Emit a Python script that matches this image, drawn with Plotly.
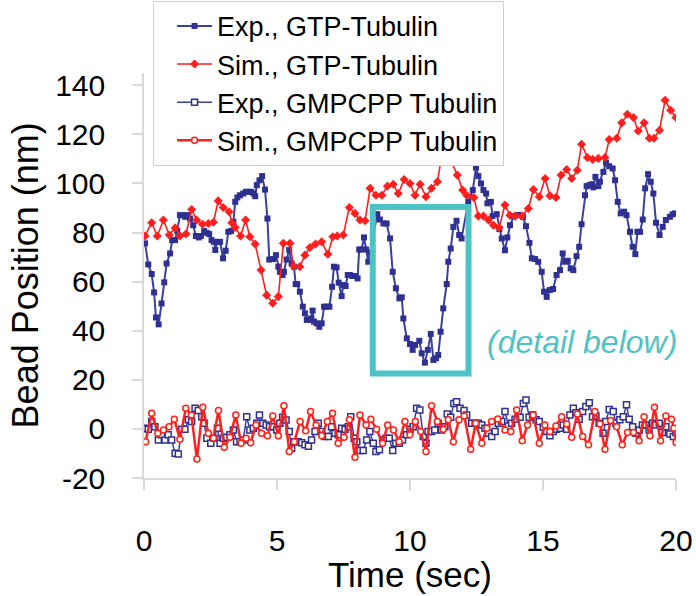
import plotly.graph_objects as go

# ---------------- data ----------------
exp_gtp_t = [0.04,0.16,0.29,0.38,0.45,0.55,0.66,0.76,0.85,0.98,1.06,1.17,1.25,1.35,1.45,1.55,1.64,1.73,1.85,1.95,
             2.06,2.14,2.26,2.36,2.45,2.54,2.63,2.68,2.76,2.86,2.97,3.07,3.17,3.27,3.36,3.43,3.51,3.61,3.73,3.83,
             3.94,4.03,4.12,4.18,4.24,4.34,4.44,4.55,4.64,4.71,
             4.86,4.96,5.05,5.11,5.21,5.26,5.36,5.46,5.55,5.64,5.7,5.76,5.86,5.97,6.05,6.12,6.18,6.27,6.34,6.39,
             6.49,6.59,6.68,6.77,6.87,6.97,7.07,7.14,7.24,7.32,7.43,7.49,7.58,7.66,7.74,7.84,7.94,8.03,8.09,8.18,
             8.27,8.35,8.43,8.5,
             8.77,8.87,9.0,9.12,9.25,9.35,9.47,9.6,9.69,9.75,9.88,10.0,10.1,10.19,10.35,10.44,10.56,10.67,10.78,10.88,
             10.98,11.06,11.15,11.25,11.38,11.44,11.53,11.63,11.75,11.85,11.94,
             12.19,12.36,12.48,12.57,12.67,12.76,12.86,12.91,13.04,13.1,13.26,13.36,13.45,13.57,13.66,13.76,13.91,14.03,14.15,14.25,
             14.36,14.49,14.58,14.7,14.82,14.95,15.04,15.14,15.26,15.38,15.51,15.64,15.74,15.83,15.93,16.04,16.14,16.26,16.36,16.45,
             16.58,
             16.64,16.74,16.84,16.89,16.97,17.08,17.14,17.27,17.37,17.49,17.62,17.71,17.81,17.92,18.05,18.14,18.27,18.37,18.47,18.55,
             18.65,18.75,18.84,18.95,19.05,19.15,19.25,19.38,19.5,19.62,19.77,19.87,19.96]
exp_gtp_v = [75.6,67,63.1,55.6,45.4,42.6,51.1,59.7,67.4,71.5,76.9,76.9,80.7,87.1,87.1,86.4,87.1,85.7,83,78.6,
             78,78.6,80.6,79.9,79.4,76.9,76.2,72.9,76.2,76.2,69.5,72.6,80.3,80.6,84.4,92.5,94.3,95.2,95.9,96.6,
             96.6,96.6,95.9,94.8,99.3,101.3,103,97.5,85.7,69,
             69.2,70.8,66.1,64,62.7,64,69,72.9,67.4,66.1,59,59,55.9,49.8,47.1,44.4,44.4,45,48.2,43.7,
             43,41.6,43,49.8,49.8,49.8,57.9,66.1,65.8,59.6,54.1,58.6,58.2,62.7,62.7,62.3,62.3,61.3,73.1,73.1,
             78,73.1,68.1,71.8,
             87.5,85.3,83.7,83.7,77.6,64,57.3,53.2,53.6,45,36.9,34.6,32.2,34.2,35.9,30.8,27,32.2,38.7,28.1,
             28.8,30.1,39.6,49.1,59,68.1,73.5,82.3,84.8,79,77.6,
             92.5,97.3,106.5,103,100,97.3,95.9,91.9,92.5,86.7,87.5,81.4,77.6,72.8,78,83,86.7,87.1,87.1,86.4,
             82.6,75.8,69.5,69.2,68.1,64,55.9,53.8,56.6,57,62.7,64.7,71.5,68.1,68.5,65.4,64.7,70.4,74.2,83.4,
             95.2,
             98.9,99.3,99.7,98.4,102.7,98.9,100.7,104.7,108.4,107,106.1,101.3,92.5,87.8,88.5,87.1,80.3,74.2,71.2,80.3,
             80.3,85.3,98,103.8,100.7,95.9,84,79,82.3,85.1,86.4,87.4,87.8]

sim_gtp_t = [0.04,0.29,0.5,0.73,0.95,1.17,1.35,1.58,1.79,1.98,2.2,2.42,2.61,2.79,2.98,3.2,3.3,3.43,3.63,3.82,
             3.98,4.18,4.4,4.61,4.84,5.05,5.24,5.49,5.62,5.86,6.05,6.24,6.45,6.68,6.91,7.1,7.27,7.49,7.72,7.93,
             8.12,8.31,8.5,8.72,8.94,9.15,9.37,9.56,9.78,10.0,10.19,10.38,10.6,10.81,11.03,11.19,11.38,11.53,11.78,11.98,
             12.13,12.4,12.57,12.76,12.95,13.14,13.35,13.57,13.76,13.95,14.2,14.45,14.64,14.86,15.08,15.26,15.49,15.68,15.89,16.08,
             16.29,16.45,16.67,16.87,17.08,17.33,17.49,17.77,17.96,18.17,18.4,18.58,18.8,19.0,19.17,19.38,19.59,19.8,20.0]
sim_gtp_v = [78.6,84,78.6,85.1,79,81.9,78.6,79.4,89.4,85.1,83.4,83.7,84.2,92.9,90.2,88.5,84,82.1,78.6,85.1,
             78.3,75.3,64.7,54.5,51.2,53.9,75.6,75.6,66.3,66.1,70.8,73.9,75.3,76.2,71.2,78.3,78.6,79,90.2,87.8,
             85.1,84.8,98,95.2,95.2,98.9,99.7,95.9,101.6,100,95.2,99.7,94.6,98,100.7,111.1,110.9,109.5,103.4,97.3,
             95.2,94.3,86.7,86.7,85.1,83,82.1,91.2,87,86.7,86.7,89.8,97.5,94.6,102,95,94.3,103.4,105.7,102,
             105.4,116,110.6,109.8,110.2,110.6,117.9,118.4,124.7,128.2,126.9,121.4,124.7,118.4,118.4,121.7,133.9,129.8,126.9]

exp_gmp_t = [0.04,0.16,0.29,0.41,0.54,0.66,0.79,0.91,1.04,1.17,
             1.29,1.42,1.54,1.67,1.79,1.92,2.04,2.17,2.26,2.36,
             2.51,2.63,2.76,2.86,2.98,3.11,3.23,3.36,3.48,3.61,
             3.73,3.86,3.98,4.11,4.24,4.34,4.47,4.59,4.72,4.86,
             4.99,5.11,5.21,5.34,5.46,5.55,5.64,5.8,5.93,6.05,
             6.18,6.3,6.43,6.55,6.68,6.8,6.93,7.05,7.18,7.3,
             7.43,7.56,7.68,7.77,7.9,8.0,8.12,8.24,8.37,8.49,
             8.62,8.72,8.85,8.97,9.1,9.22,9.35,9.47,9.6,9.72,
             9.87,10.0,10.12,10.25,10.37,10.5,10.6,10.68,10.81,10.93,
             11.06,11.19,11.31,11.4,11.53,11.65,11.75,11.88,12.03,12.13,
             12.32,12.45,12.57,12.7,12.82,12.95,13.07,13.2,13.32,13.45,
             13.57,13.7,13.82,13.95,14.14,14.26,14.36,14.48,14.61,14.74,
             14.86,15.01,15.14,15.26,15.39,15.51,15.64,15.76,15.89,16.01,
             16.14,16.24,16.36,16.49,16.61,16.74,16.86,16.99,17.11,17.26,
             17.36,17.49,17.64,17.74,17.89,18.02,18.14,18.24,18.37,18.49,
             18.62,18.74,18.87,18.99,19.12,19.24,19.37,19.49,19.62,19.77,
             19.9,20.0]
exp_gmp_v = [0.3,-0.1,3,0.9,-4.5,-2.4,-4.5,-2.4,-4.5,-9.9,
             -10.2,-0.1,-0.1,3.7,3,8.4,7.5,5,2.3,-3.8,
             -5.8,-3.8,0.3,-5.8,-3.8,-3.4,-2.4,-0.4,-5.2,-5.2,
             -4.5,5,-0.4,0.3,2.3,5.7,2.3,1.6,0.9,0.9,
             -0.4,2.3,4.7,3.6,-1.1,-7.9,-5.2,-5.2,-5.6,-6.5,
             -7.1,-4.5,-1.1,2.3,-1.1,-3.1,-3.1,0.9,-1.8,-2.4,
             0.3,-0.1,0.9,5,-3.8,-5.2,-8.8,-8.8,-4.5,-1.1,
             -5.8,-9.2,-8.5,-4.5,-3.8,-3.8,-8.8,-5.8,-5.8,-4.5,
             -2.4,-0.1,0.9,8.4,7.7,-3.1,-5.8,-1.1,-1.1,-0.4,
             2.3,-0.4,0.9,6.1,4.7,10.4,11.1,8.4,7.5,5.7,
             2.3,2.3,2.3,1.6,0.3,-1.8,-3.1,-1.1,2.3,3,
             7.1,1.2,2.3,3.9,4.7,10.4,11.8,4.7,5.7,3.7,
             3,0.7,-1.1,-2.8,-1.1,-0.1,0.3,1.6,-0.1,5.7,
             8.4,6.6,3.9,7.1,9.1,10.7,5,5.3,2.3,-1.8,
             3,7.9,7.1,2.3,3.7,5,9.8,3.9,0.9,-1.8,
             -0.4,1.6,1.6,-0.4,2.3,1.6,2.3,-1.5,0.9,-2.1,
             -3.1,-1.5]

sim_gmp_t = [0.06,0.29,0.52,0.73,0.94,1.14,1.35,1.57,1.78,1.99,
             2.21,2.42,2.61,2.8,3.02,3.23,3.45,3.65,3.84,4.01,
             4.21,4.42,4.64,4.84,5.05,5.26,5.46,5.65,5.87,6.08,
             6.26,6.47,6.68,6.89,7.09,7.3,7.52,7.72,7.93,8.12,
             8.35,8.53,8.74,8.97,9.16,9.38,9.59,9.81,10.0,10.2,
             10.4,10.6,10.81,11.03,11.25,11.44,11.63,11.84,12.04,12.28,
             12.47,12.7,12.89,13.07,13.3,13.57,13.79,14.01,14.22,14.42,
             14.63,14.86,15.07,15.26,15.49,15.7,15.89,16.08,16.29,16.49,
             16.71,16.95,17.14,17.33,17.54,17.77,17.98,18.18,18.4,18.61,
             18.8,19.02,19.19,19.42,19.62,19.83,19.92,20.0]
sim_gmp_v = [-5.2,6.4,-1.8,-0.4,0.9,3.9,-4.2,8.4,5.7,-12.3,
             8.8,-1.8,-3.8,7.5,-7.5,-3.4,5.7,-5.8,-3.8,-5.6,
             1.6,-1.8,-2.8,5.3,-2.8,9.4,-9.2,-5.2,3,-0.7,
             7.1,1.6,-2.8,3,6.4,-5.8,-3.4,3.7,-11.5,5.7,
             1.6,3.9,-0.1,-5.8,1.6,-0.4,-5.2,3,-2.4,3,
             -1.1,-9.2,9.4,3,-0.1,3.7,-5.2,3.7,5.3,-8.3,
             2.3,-5.8,0.3,3,4,-0.4,-1.1,7.7,-4.8,1.6,
             5.7,-5.8,1.6,-1.1,1.2,5,2,-3.4,6.1,-3.1,
             -6.5,7.1,2,-8.3,3.4,0.9,-6.5,-1.5,-1.5,-4.8,
             5,-2.8,8.8,-4.8,5.3,3.9,0.3,-5.5]

series_names = ["Exp., GTP-Tubulin", "Sim., GTP-Tubulin",
                "Exp., GMPCPP Tubulin", "Sim., GMPCPP Tubulin"]
x_ticks = [0, 5, 10, 15, 20]
y_ticks = [-20, 0, 20, 40, 60, 80, 100, 120, 140]
y_tick_text = ["-20", "0", "20", "40", "60", "80", "100", "120", "140"]
x_title = "Time (sec)"
y_title = "Bead Position (nm)"
box_x = [8.6, 12.2]
box_y = [22.6, 90.4]
note_text = "(detail below)"
note_pos = [16.47, 35.4]

# ---------------- styles ----------------
NAVY = "#2e3192"
RED = "#ff1f1f"
TEAL = "#4ec3c6"
FONT = "Liberation Sans, Arial, sans-serif"

fig = go.Figure()
fig.add_trace(go.Scatter(x=exp_gtp_t, y=exp_gtp_v, name=series_names[0], mode="lines+markers",
                         line=dict(color="#3b3f9e", width=2),
                         marker=dict(symbol="square", size=6, color=NAVY)))
fig.add_trace(go.Scatter(x=sim_gtp_t, y=sim_gtp_v, name=series_names[1], mode="lines+markers",
                         line=dict(color=RED, width=1.6),
                         marker=dict(symbol="diamond", size=7, color=RED)))
fig.add_trace(go.Scatter(x=exp_gmp_t, y=exp_gmp_v, name=series_names[2], mode="lines+markers",
                         line=dict(color="#3b3f9e", width=1.5),
                         marker=dict(symbol="square", size=6, color="#fffbe6",
                                     line=dict(color=NAVY, width=1.5))))
fig.add_trace(go.Scatter(x=sim_gmp_t, y=sim_gmp_v, name=series_names[3], mode="lines+markers",
                         line=dict(color=RED, width=2.5),
                         marker=dict(symbol="circle", size=6, color="#fffbe6",
                                     line=dict(color=RED, width=1.5))))

fig.add_shape(type="rect", x0=box_x[0], x1=box_x[1], y0=box_y[0], y1=box_y[1],
              xref="x", yref="y", line=dict(color=TEAL, width=6))
fig.add_annotation(x=note_pos[0], y=note_pos[1], xref="x", yref="y", text=note_text,
                   showarrow=False, font=dict(family=FONT, size=32, color=TEAL, style="italic"))

# axis titles placed as paper-anchored text
fig.add_annotation(x=0.5, y=-0.2395, xref="paper", yref="paper", text=x_title, showarrow=False,
                   xanchor="center", yanchor="middle",
                   font=dict(family=FONT, size=35, color="black"))
fig.add_annotation(x=-0.222, y=0.5, xref="paper", yref="paper", text=y_title, showarrow=False,
                   textangle=-90, xanchor="center", yanchor="middle",
                   font=dict(family=FONT, size=36, color="black"))

axis_common = dict(showgrid=False, zeroline=False, showline=True, linecolor="#d9d9d9", linewidth=1.5,
                   ticks="outside", ticklen=10, tickcolor="#d9d9d9", tickwidth=1.5, automargin=False,
                   tickfont=dict(family=FONT, size=30, color="black"))

fig.update_layout(
    width=696, height=596,
    margin=dict(l=144, r=20, t=73, b=118, autoexpand=False),
    paper_bgcolor="white", plot_bgcolor="white",
    xaxis=dict(range=[0, 20], tickvals=x_ticks, ticklabelstandoff=25, **axis_common),
    yaxis=dict(range=[-20, 145], tickvals=y_ticks, ticktext=y_tick_text, ticklabelstandoff=21,
               **axis_common),
    legend=dict(x=0.017, y=1.178, xanchor="left", yanchor="top",
                font=dict(family=FONT, size=27, color="black"),
                bgcolor="white", bordercolor="#d0d0d0", borderwidth=1,
                indentation=18, itemwidth=35),
    showlegend=True,
)

fig.write_html("out.html")
